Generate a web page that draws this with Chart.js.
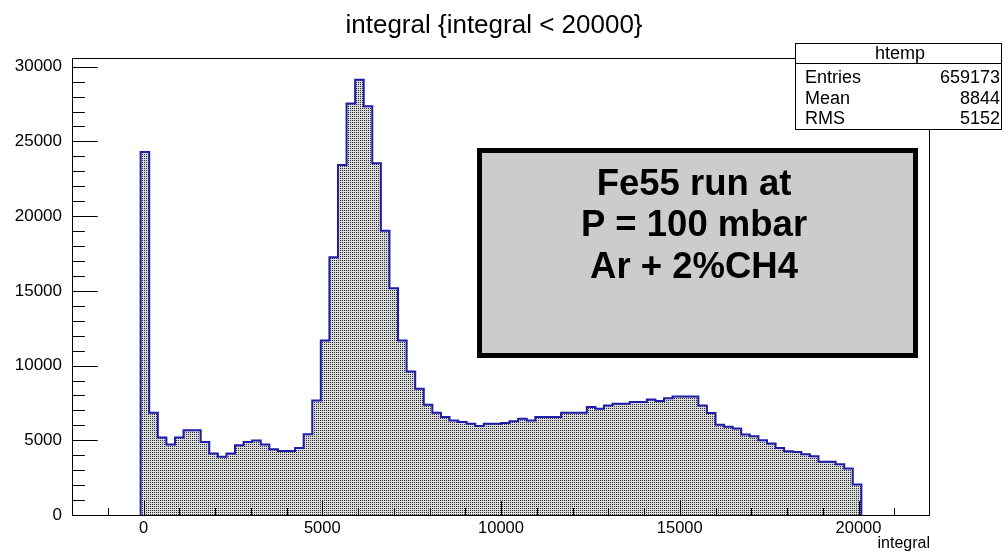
<!DOCTYPE html>
<html>
<head>
<meta charset="utf-8">
<script src="https://cdn.jsdelivr.net/npm/chart.js@4.4.0/dist/chart.umd.min.js"></script>
<style>
  html, body { margin: 0; padding: 0; background: #fff; }
  canvas { display: block; }
</style>
</head>
<body>
<canvas id="histo" width="1003" height="553"></canvas>
<script>
// htemp: 100 bins of 240 between -2000 and 22000, bins 8..91 are filled
const xMin = -2000;
const xMax = 22000;
const binWidth = 240;
const firstBin = 8;
const counts = [
  24290, 6850, 5180, 4710, 5180, 5670, 5670, 4890, 4110, 3890,
  4110, 4670, 4890, 4980, 4710, 4400, 4290, 4290, 4490, 5400,
  7670, 11670, 17240, 23420, 27530, 29120, 27350, 23530, 19020, 15180,
  11670, 9600, 8440, 7380, 6840, 6560, 6330, 6220, 6110, 5960,
  6110, 6110, 6150, 6270, 6440, 6330, 6560, 6560, 6560, 6840,
  6840, 6840, 7220, 7110, 7330, 7440, 7440, 7560, 7560, 7730,
  7620, 7820, 7930, 7930, 7930, 7330, 6820, 6040, 5900, 5780,
  5390, 5270, 5000, 4780, 4480, 4270, 4220, 4070, 3930, 3560,
  3560, 3400, 3110, 2040
];
const yMax = 30580;
const xLabelTicks = [0, 5000, 10000, 15000, 20000];
const yLabelTicks = [0, 5000, 10000, 15000, 20000, 25000, 30000];
const minorStep = 1000;
const titleText = 'integral {integral < 20000}';
const statsName = 'htemp';
const statsLabels = ['Entries', 'Mean', 'RMS'];
const statsValues = ['659173', '8844', '5152'];
const noteLines = ['Fe55 run at', 'P = 100 mbar', 'Ar + 2%CH4'];

const FONT = '"Liberation Sans", Arial, Helvetica, sans-serif';

// step outline: start on the axis, one point per bin edge, back down to the axis
const points = [{ x: xMin + firstBin * binWidth, y: 0 }];
counts.forEach((c, i) => points.push({ x: xMin + (firstBin + i) * binWidth, y: c }));
points.push({ x: xMin + (firstBin + counts.length) * binWidth, y: 0 });

function dotPattern() {
  const c = document.createElement('canvas');
  c.width = 2; c.height = 2;
  const g = c.getContext('2d');
  g.fillStyle = '#dadada';
  g.fillRect(0, 0, 2, 2);
  g.fillStyle = '#2a2a2a';
  g.fillRect(0, 0, 1, 1);
  return g.createPattern(c, 'repeat');
}

// every 1000 between lo and hi, labelled ones are picked by the callbacks
function stepTicks(lo, hi) {
  const out = [];
  for (let v = lo; v <= hi; v += minorStep) out.push({ value: v });
  return out;
}

// ROOT style frame with inward major/minor ticks, title, stats box and note
const frameTicks = {
  id: 'frameTicks',
  afterDatasetsDraw(chart) {
    const ctx = chart.ctx;
    const a = chart.chartArea;
    const xs = chart.scales.x, ys = chart.scales.y;
    ctx.save();
    ctx.strokeStyle = '#000';
    ctx.lineWidth = 1;
    ctx.strokeRect(a.left + 0.5, a.top + 0.5, a.right - a.left - 1, a.bottom - a.top);
    ctx.beginPath();
    xs.ticks.forEach(t => {
      if (t.value <= xMin || t.value >= xMax) return;
      const px = Math.round(xs.getPixelForValue(t.value)) + 0.5;
      const len = t.value % 5000 === 0 ? 14 : 7;
      ctx.moveTo(px, a.bottom);
      ctx.lineTo(px, a.bottom - len);
    });
    ys.ticks.forEach(t => {
      const py = Math.round(ys.getPixelForValue(t.value)) + 0.5;
      const len = t.value % 5000 === 0 ? 25.7 : 12.9;
      ctx.moveTo(a.left, py);
      ctx.lineTo(a.left + len, py);
    });
    ctx.stroke();
    ctx.restore();
  },
  afterDraw(chart) {
    const ctx = chart.ctx;
    ctx.save();
    ctx.fillStyle = '#000';

    ctx.font = '26px ' + FONT;
    ctx.textAlign = 'center';
    ctx.textBaseline = 'alphabetic';
    ctx.fillText(titleText, 494, 33);

    ctx.fillStyle = '#fff';
    ctx.fillRect(795.5, 43.5, 206, 86);
    ctx.strokeStyle = '#000';
    ctx.lineWidth = 1;
    ctx.strokeRect(795.5, 43.5, 206, 86);
    ctx.beginPath();
    ctx.moveTo(795.5, 63.5);
    ctx.lineTo(1001.5, 63.5);
    ctx.stroke();
    ctx.fillStyle = '#000';
    ctx.font = '18px ' + FONT;
    ctx.fillText(statsName, 900, 59);
    statsLabels.forEach((lab, i) => {
      const y = 83 + i * 20.7;
      ctx.textAlign = 'left';
      ctx.fillText(lab, 805, y);
      ctx.textAlign = 'right';
      ctx.fillText(statsValues[i], 1000, y);
    });

    ctx.fillStyle = '#cccccc';
    ctx.fillRect(479.5, 150.5, 436, 205);
    ctx.lineWidth = 5;
    ctx.strokeRect(479.5, 150.5, 436, 205);
    ctx.fillStyle = '#000';
    ctx.font = 'bold 36.5px ' + FONT;
    ctx.textAlign = 'center';
    noteLines.forEach((line, i) => ctx.fillText(line, 694, 194.5 + i * 41.8));
    ctx.restore();
  }
};

new Chart(document.getElementById('histo'), {
  type: 'line',
  data: {
    datasets: [{
      label: statsName,
      data: points,
      stepped: true,
      fill: 'origin',
      backgroundColor: dotPattern(),
      borderColor: '#1e1eaa',
      borderWidth: 2,
      pointRadius: 0,
      tension: 0
    }]
  },
  options: {
    responsive: false,
    animation: false,
    devicePixelRatio: 1,
    layout: { padding: { left: 0, top: 58, right: 73, bottom: 0 } },
    plugins: {
      legend: { display: false },
      title: { display: false },
      tooltip: { enabled: false }
    },
    scales: {
      x: {
        type: 'linear',
        min: xMin,
        max: xMax,
        grid: { display: false, drawTicks: false },
        border: { display: false },
        afterBuildTicks: s => { s.ticks = stepTicks(xMin, xMax); },
        ticks: {
          autoSkip: false,
          maxRotation: 0,
          padding: 4,
          color: '#000',
          font: { family: FONT, size: 16.5 },
          callback: v => xLabelTicks.includes(v) ? String(v) : ''
        },
        title: {
          display: true,
          text: 'integral',
          align: 'end',
          color: '#000',
          font: { family: FONT, size: 16 },
          padding: { top: 0, bottom: 0 }
        },
        afterFit: s => { s.height = 38; }
      },
      y: {
        min: 0,
        max: yMax,
        grid: { display: false, drawTicks: false },
        border: { display: false },
        afterBuildTicks: s => { s.ticks = stepTicks(0, 30000); },
        ticks: {
          autoSkip: false,
          padding: 10,
          color: '#000',
          font: { family: FONT, size: 17 },
          callback: v => yLabelTicks.includes(v) ? String(v) : ''
        },
        afterFit: s => { s.width = 72; }
      }
    }
  },
  plugins: [frameTicks]
});
</script>
</body>
</html>
